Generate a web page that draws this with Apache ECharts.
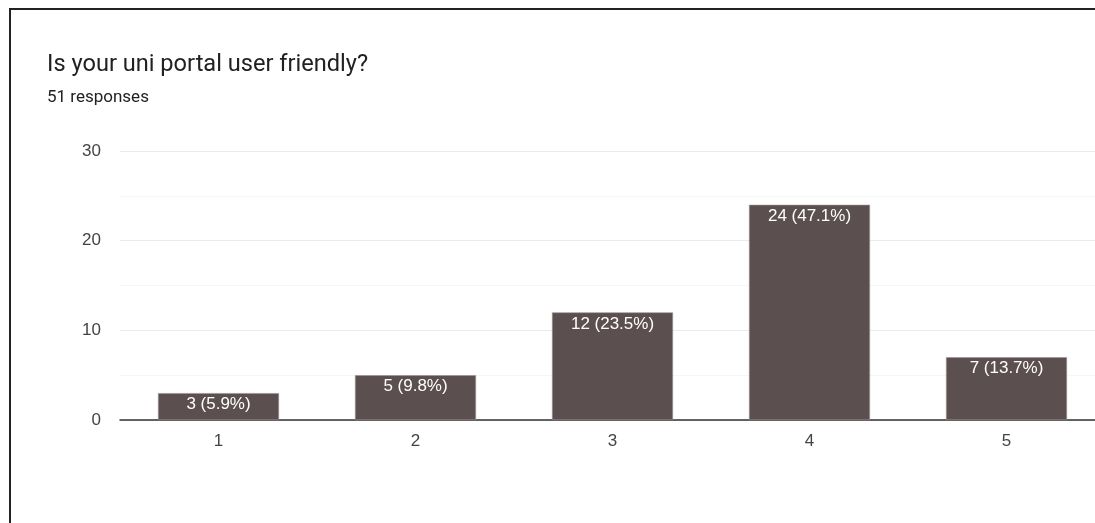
<!DOCTYPE html>
<html>
<head>
<meta charset="utf-8">
<script src="https://cdn.jsdelivr.net/npm/echarts@6/dist/echarts.min.js"></script>
<style>
html,body{margin:0;padding:0;background:#fff;}
#c{width:1095px;height:523px;}
</style>
</head>
<body>
<div id="c"></div>
<script>
const titleText = "Is your uni portal user friendly?";
const subText = "51 responses";
const categories = ["1", "2", "3", "4", "5"];
const counts = [3, 5, 12, 24, 7];
const percents = ["5.9%", "9.8%", "23.5%", "47.1%", "13.7%"];

const chart = echarts.init(document.getElementById('c'), null, {renderer: 'canvas'});
chart.setOption({
  animation: false,
  backgroundColor: '#ffffff',
  title: {
    text: titleText,
    subtext: subText,
    left: 42,
    top: 48,
    itemGap: 12,
    textStyle: {fontFamily: 'Roboto', fontSize: 23.6, fontWeight: 'normal', color: '#202124'},
    subtextStyle: {fontFamily: 'Roboto', fontSize: 17, color: '#202124'}
  },
  graphic: [{
    type: 'polyline',
    shape: {points: [[10, 523], [10, 9], [1095, 9]]},
    style: {stroke: '#222222', lineWidth: 2, fill: null}
  }],
  grid: {left: 120, top: 151, width: 985, height: 269, containLabel: false, outerBoundsMode: 'none'},
  xAxis: {
    type: 'category',
    data: categories,
    axisLine: {show: true, lineStyle: {color: '#333333', width: 1.5}},
    axisTick: {show: false},
    axisLabel: {color: '#444444', fontFamily: 'Liberation Sans, Arial', fontSize: 17, margin: 13}
  },
  yAxis: {
    type: 'value',
    min: 0, max: 30, interval: 10,
    axisLine: {show: false},
    axisTick: {show: false},
    axisLabel: {color: '#444444', fontFamily: 'Liberation Sans, Arial', fontSize: 17, margin: 19},
    splitLine: {show: true, lineStyle: {color: '#ebebeb', width: 1}},
    minorTick: {show: false, splitNumber: 2},
    minorSplitLine: {show: true, lineStyle: {color: '#f5f5f5', width: 1}}
  },
  series: [{
    type: 'bar',
    data: counts,
    barWidth: 121,
    itemStyle: {color: '#5c4f4f', borderColor: '#9a9090', borderWidth: 0.6},
    label: {
      show: true,
      position: 'insideTop',
      distance: 3,
      color: '#ffffff',
      fontFamily: 'Liberation Sans, Arial',
      fontSize: 17,
      formatter: p => p.value + ' (' + percents[p.dataIndex] + ')'
    }
  }]
});
</script>
</body>
</html>
